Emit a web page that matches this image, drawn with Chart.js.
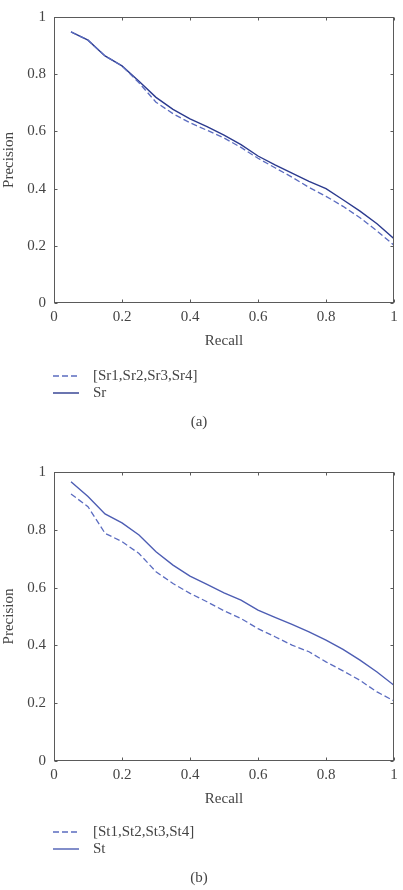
<!DOCTYPE html>
<html><head><meta charset="utf-8">
<script src="https://cdn.jsdelivr.net/npm/chart.js@4/dist/chart.umd.min.js"></script>
<style>html,body{margin:0;padding:0;background:#fff;}canvas{display:block;}</style>
</head><body>
<canvas id="ca" width="403" height="445"></canvas>
<canvas id="cb" width="403" height="445"></canvas>
<script>
const recall = [0.05,0.10,0.15,0.20,0.25,0.30,0.35,0.40,0.45,0.50,0.55,0.60,0.65,0.70,0.75,0.80,0.85,0.90,0.95,1.00];
const tickValues = [0,0.2,0.4,0.6,0.8,1];
const tickLabels = ["0","0.2","0.4","0.6","0.8","1"];

const srCombined = [0.948,0.919,0.864,0.829,0.770,0.702,0.662,0.630,0.604,0.577,0.544,0.506,0.473,0.440,0.404,0.373,0.338,0.298,0.252,0.202];
const srSingle   = [0.948,0.919,0.864,0.829,0.775,0.719,0.677,0.644,0.617,0.587,0.554,0.514,0.483,0.454,0.425,0.400,0.361,0.321,0.277,0.225];
const stCombined = [0.924,0.880,0.788,0.759,0.718,0.655,0.614,0.580,0.551,0.520,0.493,0.458,0.430,0.401,0.378,0.343,0.312,0.279,0.239,0.208];
const stSingle   = [0.966,0.915,0.855,0.824,0.782,0.724,0.678,0.640,0.611,0.582,0.557,0.522,0.497,0.473,0.447,0.418,0.386,0.349,0.308,0.262];

const FONT = "'Liberation Serif', 'Times New Roman', serif";
const FS = 15;
const TXT = '#444';
const AXIS = '#5a5a5a';

function pts(ys){ return recall.map((x,i)=>({x:x,y:ys[i]})); }

const framePlugin = {
  id:'frame',
  afterDraw(chart, args, opts){
    const ctx = chart.ctx, a = chart.chartArea;
    const xs = chart.scales.x, ys = chart.scales.y;
    ctx.save();
    ctx.strokeStyle = AXIS; ctx.lineWidth = 1;
    const L = Math.round(a.left)+0.5, R = Math.round(a.right)-0.5, T = Math.round(a.top)+0.5, B = Math.round(a.bottom)-0.5;
    ctx.strokeRect(L, T, R-L, B-T);
    ctx.beginPath();
    tickValues.forEach(v=>{
      const px = Math.round(xs.getPixelForValue(v))+0.5;
      ctx.moveTo(px,B); ctx.lineTo(px,B-3);
      ctx.moveTo(px,T); ctx.lineTo(px,T+3);
      const py = Math.round(ys.getPixelForValue(v))+0.5;
      ctx.moveTo(L,py); ctx.lineTo(L+3,py);
      ctx.moveTo(R,py); ctx.lineTo(R-3,py);
    });
    ctx.stroke();
    // legend
    ctx.font = FS + 'px ' + FONT;
    ctx.textBaseline = 'middle';
    ctx.textAlign = 'left';
    chart.data.datasets.forEach((ds,i)=>{
      const y = opts.legendY + i*opts.legendGap;
      ctx.beginPath();
      ctx.strokeStyle = ds.borderColor;
      ctx.lineWidth = ds.borderWidth;
      ctx.setLineDash(ds.borderDash || []);
      ctx.moveTo(53, y); ctx.lineTo(79, y);
      ctx.stroke();
      ctx.setLineDash([]);
      ctx.fillStyle = TXT;
      ctx.fillText(ds.label, 93, y);
    });
    ctx.textAlign = 'center';
    ctx.fillText(opts.caption, 199, opts.captionY);
    ctx.restore();
  }
};

function makeChart(id, labels, dashedData, solidData, solidColor, padTop, padBottom, legendY, captionY, caption){
  return new Chart(document.getElementById(id), {
    type:'line',
    data:{datasets:[
      {label:labels[0], data:pts(dashedData), borderColor:'#5b6cc0', borderWidth:1.3, borderDash:[6,3], pointRadius:0, tension:0, fill:false},
      {label:labels[1], data:pts(solidData), borderColor:solidColor, borderWidth:1.4, pointRadius:0, tension:0, fill:false}
    ]},
    options:{
      responsive:false, animation:false, devicePixelRatio:1,
      layout:{padding:{left:0,right:9,top:padTop,bottom:padBottom}},
      plugins:{legend:{display:false}, tooltip:{enabled:false},
        frame:{legendY:legendY, legendGap:17, captionY:captionY, caption:caption}},
      scales:{
        x:{type:'linear', min:0, max:1,
          afterBuildTicks:s=>{ s.ticks = tickValues.map(v=>({value:v})); },
          afterFit:s=>{ s.height = 50; },
          ticks:{callback:(v,i)=>tickLabels[i], padding:5, font:{family:FONT,size:FS}, color:TXT, maxRotation:0, autoSkip:false},
          grid:{display:false, drawTicks:false}, border:{display:false},
          title:{display:true, text:'Recall', font:{family:FONT,size:FS}, color:TXT, padding:{top:0,bottom:3}}
        },
        y:{type:'linear', min:0, max:1,
          afterBuildTicks:s=>{ s.ticks = tickValues.map(v=>({value:v})); },
          afterFit:s=>{ s.width = 54; },
          ticks:{callback:(v,i)=>tickLabels[i], padding:8, font:{family:FONT,size:FS}, color:TXT, autoSkip:false},
          grid:{display:false, drawTicks:false}, border:{display:false},
          title:{display:true, text:'Precision', font:{family:FONT,size:FS}, color:TXT, padding:{top:0,bottom:0}}
        }
      }
    },
    plugins:[framePlugin]
  });
}

makeChart('ca', ['[Sr1,Sr2,Sr3,Sr4]','Sr'], srCombined, srSingle, '#2b3a8e', 14, 92, 376, 422, '(a)');
makeChart('cb', ['[St1,St2,St3,St4]','St'], stCombined, stSingle, '#4d5db3', 27, 79, 387, 433, '(b)');
</script>
</body></html>
